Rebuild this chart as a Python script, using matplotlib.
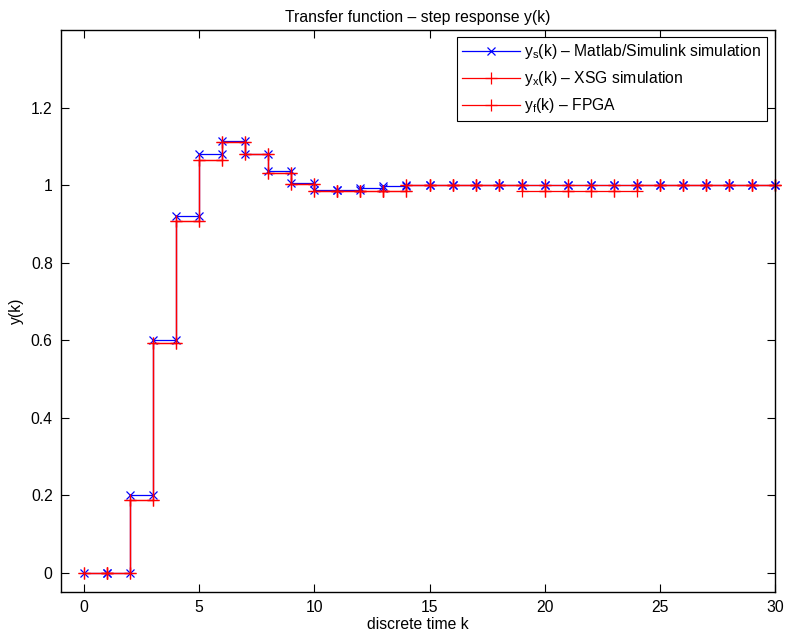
import numpy as np
import matplotlib
matplotlib.use("Agg")
import matplotlib.pyplot as plt

plt.rcParams['font.family'] = ['Liberation Sans', 'DejaVu Sans']
plt.rcParams['mathtext.fontset'] = 'custom'
plt.rcParams['mathtext.rm'] = 'Liberation Sans'
plt.rcParams['mathtext.it'] = 'Liberation Sans'

k = np.arange(0, 31)
y_sim = [0, 0, 0.200, 0.600, 0.921, 1.081, 1.113, 1.079, 1.037, 1.005,
         0.988, 0.988, 0.992, 0.997, 1.0, 1.0, 1.0, 1.0, 1.0, 1.0,
         1.0, 1.0, 1.0, 1.0, 1.0, 1.0, 1.0, 1.0, 1.0, 1.0, 1.0]
y_xsg = [0, 0, 0.187, 0.593, 0.907, 1.064, 1.110, 1.079, 1.032, 1.002,
         0.985, 0.985, 0.985, 0.985, 1.0, 1.0, 1.0, 1.0, 1.0, 1.0,
         1.0, 1.0, 1.0, 1.0, 1.0, 1.0, 1.0, 1.0, 1.0, 1.0, 1.0]
y_fpga = [0, 0, 0.187, 0.593, 0.907, 1.064, 1.110, 1.079, 1.032, 1.002,
          0.985, 0.985, 0.985, 0.985, 1.0, 1.0, 1.0, 1.0, 1.0, 0.985,
          0.985, 0.985, 0.985, 0.985, 1.0, 1.0, 1.0, 1.0, 1.0, 1.0, 1.0]

labels = [r'$\mathregular{y_s}$(k) – Matlab/Simulink simulation',
          r'$\mathregular{y_x}$(k) – XSG simulation',
          r'$\mathregular{y_f}$(k) – FPGA']
title = 'Transfer function – step response y(k)'
xlabel = 'discrete time k'
ylabel = 'y(k)'
xticks = [0, 5, 10, 15, 20, 25, 30]
yticks = [0, 0.2, 0.4, 0.6, 0.8, 1.0, 1.2]

FS = 11.3


def stairs(x, y):
    x = np.asarray(x, float)
    y = np.asarray(y, float)
    xs = np.repeat(x, 2)[1:]
    ys = np.repeat(y, 2)[:-1]
    return xs, ys


fig = plt.figure(figsize=(7.86, 6.36), dpi=100)
ax = fig.add_axes([61/786, 1-592/636, (775-61)/786, (592-30)/636])

for yv, col, mk, ms, lab in [(y_sim, 'blue', 'x', 6, labels[0]),
                             (y_xsg, 'red', '+', 8, labels[1]),
                             (y_fpga, 'red', '+', 8, labels[2])]:
    xs, ys = stairs(k, yv)
    ax.plot(xs, ys, color=col, marker=mk, markersize=ms, lw=0.9,
            markeredgewidth=0.9, label=lab, clip_on=False)

ax.set_xlim(-1, 30)
ax.set_ylim(-0.05, 1.4)
ax.set_xticks(xticks)
ax.set_xticklabels([str(v) for v in xticks])
ax.set_yticks(yticks)
ax.set_yticklabels(['0', '0.2', '0.4', '0.6', '0.8', '1', '1.2'])
ax.tick_params(direction='in', top=True, right=True, length=6, width=0.8,
               labelsize=FS, pad=6)
for s in ax.spines.values():
    s.set_linewidth(1.0)

ax.set_title(title, fontsize=FS, pad=6)
ax.set_xlabel(xlabel, fontsize=FS, labelpad=1)
ax.set_ylabel(ylabel, fontsize=FS, labelpad=5)

leg = ax.legend(loc='upper right', bbox_to_anchor=((767-61)/714, (592-37)/562),
                borderaxespad=0, fontsize=FS, handlelength=3.7,
                fancybox=False, framealpha=1, edgecolor='black',
                borderpad=0.35, labelspacing=0.5, handletextpad=0.25)
leg.get_frame().set_linewidth(0.8)

fig.savefig('out.png', dpi=100)
